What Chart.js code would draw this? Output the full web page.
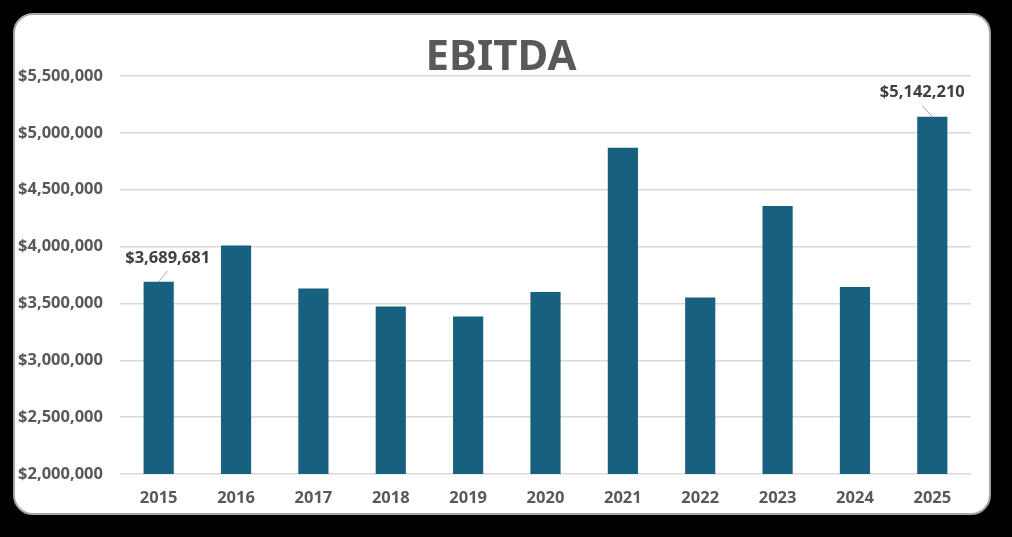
<!DOCTYPE html>
<html>
<head>
<meta charset="utf-8">
<script src="https://cdn.jsdelivr.net/npm/chart.js@4"></script>
<style>
  html, body { margin: 0; padding: 0; background: #000; }
  #card {
    position: absolute; left: 13px; top: 13px; width: 974px; height: 498px;
    background: #fff; border: 2px solid #a6a6a6; border-radius: 20px;
  }
  #ebitdaChart { position: absolute; left: 0; top: 0; }
</style>
</head>
<body>
<div id="card"></div>
<canvas id="ebitdaChart" width="1012" height="537"></canvas>
<script>
// EBITDA by year, bar chart

var years = ['2015', '2016', '2017', '2018', '2019', '2020', '2021', '2022', '2023', '2024', '2025'];
var ebitda = [3689681, 4010000, 3632000, 3474000, 3386000, 3601000, 4870000, 3553000, 4357000, 3645000, 5142210];
var labelled = [0, 10];   // bars that carry a value label
var yTicks = [2000000, 2500000, 3000000, 3500000, 4000000, 4500000, 5000000, 5500000];

var fmt = function (v) { return '$' + Math.round(v).toLocaleString('en-US'); };

var textGray = '#595959';
var fontFam = "'Noto Sans', 'DejaVu Sans', sans-serif";

// title drawn at a fixed spot over the card
var titlePlugin = {
    id: 'cardTitle',
    afterDraw: function (chart) {
	var c = chart.ctx;
	c.save();
	c.font = 'bold 42px ' + fontFam;
	c.fillStyle = textGray;
	c.textAlign = 'center';
	c.textBaseline = 'middle';
	c.fillText('EBITDA', 501, 58);
	c.restore();
    }
};

// value labels with a short leader line
var valueLabels = {
    id: 'valueLabels',
    afterDatasetsDraw: function (chart) {
	var c = chart.ctx;
	var meta = chart.getDatasetMeta(0);
	c.save();
	labelled.forEach(function (i) {
	    var bar = meta.data[i];
	    var dx = i === 0 ? 9 : -10;
	    c.strokeStyle = '#a6a6a6';
	    c.lineWidth = 1;
	    c.beginPath();
	    c.moveTo(bar.x, bar.y);
	    c.lineTo(bar.x + dx, bar.y - 11);
	    c.stroke();
	    c.font = 'bold 16.5px ' + fontFam;
	    c.fillStyle = '#404040';
	    c.textAlign = 'center';
	    c.textBaseline = 'middle';
	    c.fillText(fmt(ebitda[i]), bar.x + dx, bar.y - 24);
	});
	c.restore();
    }
};

var ctx = document.getElementById('ebitdaChart');

var ebitdaChart = new Chart(ctx, {
    type: 'bar',
    data: {
	labels: years,
	datasets: [{
	    label: 'EBITDA',
	    data: ebitda,
	    backgroundColor: '#17607f',
	    borderWidth: 0,
	    barPercentage: 0.39,
	    categoryPercentage: 1
	}]
    },
    options: {
	responsive: false,
	animation: false,
	layout: { padding: { top: 76, left: 0, right: 41, bottom: 30 } },
	plugins: {
	    legend: { display: false },
	    tooltip: { enabled: false }
	},
	scales: {
	    x: {
		grid: { display: false, drawTicks: false },
		border: { display: false },
		ticks: {
		    color: textGray,
		    padding: 14,
		    font: { family: fontFam, size: 16.5, weight: 'bold' }
		},
		afterFit: function (s) { s.height = 33; }
	    },
	    y: {
		min: 2000000,
		max: 5500000,
		afterBuildTicks: function (s) {
		    s.ticks = yTicks.map(function (v) { return { value: v }; });
		},
		grid: { color: '#d9d9d9', lineWidth: 1.5, drawTicks: false },
		border: { display: false },
		ticks: {
		    color: textGray,
		    padding: 17,
		    font: { family: fontFam, size: 16.5, weight: 'bold' },
		    callback: function (v) { return fmt(v); }
		},
		afterFit: function (s) { s.width = 120; }
	    }
	}
    },
    plugins: [titlePlugin, valueLabels]
});
</script>
</body>
</html>
